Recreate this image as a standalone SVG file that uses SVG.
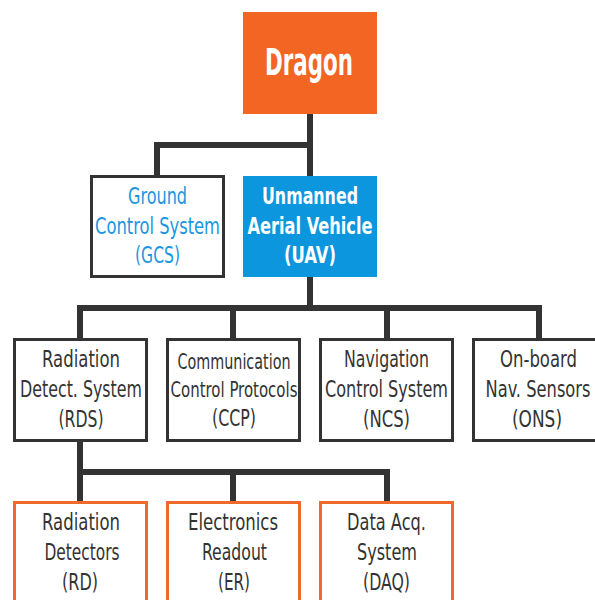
<svg xmlns="http://www.w3.org/2000/svg" width="595" height="600" viewBox="0 0 595 600">
<style>
.t{font-family:'Liberation Sans Narrow','DejaVu Sans Condensed','Liberation Sans',sans-serif;font-size:23.5px;fill:#333;text-anchor:middle}
.box{fill:#fff;stroke:#333;stroke-width:3}
.obox{fill:#fff;stroke:#F06A2C;stroke-width:3}
.c{fill:none;stroke:#333;stroke-width:6;stroke-linejoin:miter}
</style>
<rect width="595" height="600" fill="#fff"/>
<g id="connectors">
<path class="c" d="M310 114 V145 H157 V176"/>
<path class="c" d="M310 145 V177"/>
<path class="c" d="M310 277 V308"/>
<path class="c" d="M80 338 V308 H539 V338"/>
<path class="c" d="M233 308 V338"/>
<path class="c" d="M387 308 V338"/>
<path class="c" d="M80 442 V502"/>
<path class="c" d="M80 472 H387 V502"/>
<path class="c" d="M233 472 V502"/>
</g>
<g id="dragon">
<rect x="243" y="12" width="134" height="102" fill="#F26522"/>
<text class="t" x="309" y="75" style="font-size:38px;font-weight:bold;fill:#fff" textLength="88" lengthAdjust="spacingAndGlyphs">Dragon</text>
</g>
<g id="gcs">
<rect class="box" x="91.5" y="176.5" width="132" height="100"/>
<text class="t" style="fill:#1A96E0" x="157.5" y="204" textLength="59" lengthAdjust="spacingAndGlyphs">Ground</text>
<text class="t" style="fill:#1A96E0" x="157.5" y="234" textLength="125" lengthAdjust="spacingAndGlyphs">Control System</text>
<text class="t" style="fill:#1A96E0" x="157.5" y="263" textLength="45" lengthAdjust="spacingAndGlyphs">(GCS)</text>
</g>
<g id="uav">
<rect x="243" y="176" width="134" height="101" fill="#0B96DD"/>
<text class="t" style="fill:#fff;font-weight:bold" x="310" y="204" textLength="96" lengthAdjust="spacingAndGlyphs">Unmanned</text>
<text class="t" style="fill:#fff;font-weight:bold" x="310" y="234" textLength="125" lengthAdjust="spacingAndGlyphs">Aerial Vehicle</text>
<text class="t" style="fill:#fff;font-weight:bold" x="310" y="263" textLength="52" lengthAdjust="spacingAndGlyphs">(UAV)</text>
</g>
<g id="rds">
<rect class="box" x="14.5" y="339.5" width="132" height="101"/>
<text class="t" x="81" y="367" textLength="78" lengthAdjust="spacingAndGlyphs">Radiation</text>
<text class="t" x="81" y="397" textLength="122" lengthAdjust="spacingAndGlyphs">Detect. System</text>
<text class="t" x="81" y="427" textLength="45" lengthAdjust="spacingAndGlyphs">(RDS)</text>
</g>
<g id="ccp">
<rect class="box" x="167.5" y="339.5" width="132" height="101"/>
<text class="t" style="font-size:22px" x="234" y="369" textLength="113" lengthAdjust="spacingAndGlyphs">Communication</text>
<text class="t" style="font-size:22px" x="234" y="397" textLength="127" lengthAdjust="spacingAndGlyphs">Control Protocols</text>
<text class="t" x="234" y="426" textLength="44" lengthAdjust="spacingAndGlyphs">(CCP)</text>
</g>
<g id="ncs">
<rect class="box" x="320.5" y="339.5" width="132" height="101"/>
<text class="t" x="386.5" y="367" textLength="85" lengthAdjust="spacingAndGlyphs">Navigation</text>
<text class="t" x="386.5" y="397" textLength="123" lengthAdjust="spacingAndGlyphs">Control System</text>
<text class="t" x="386.5" y="427" textLength="47" lengthAdjust="spacingAndGlyphs">(NCS)</text>
</g>
<g id="ons">
<rect class="box" x="473.5" y="339.5" width="132" height="101"/>
<text class="t" x="538.5" y="367" textLength="77" lengthAdjust="spacingAndGlyphs">On-board</text>
<text class="t" x="538" y="397" textLength="105" lengthAdjust="spacingAndGlyphs">Nav. Sensors</text>
<text class="t" x="537" y="427" textLength="50" lengthAdjust="spacingAndGlyphs">(ONS)</text>
</g>
<g id="rd">
<rect class="obox" x="14.5" y="502.5" width="132" height="110"/>
<text class="t" x="81" y="530" textLength="78" lengthAdjust="spacingAndGlyphs">Radiation</text>
<text class="t" x="82" y="560" textLength="75" lengthAdjust="spacingAndGlyphs">Detectors</text>
<text class="t" x="80" y="590" textLength="36" lengthAdjust="spacingAndGlyphs">(RD)</text>
</g>
<g id="er">
<rect class="obox" x="167.5" y="502.5" width="132" height="110"/>
<text class="t" x="233" y="530" textLength="90" lengthAdjust="spacingAndGlyphs">Electronics</text>
<text class="t" x="234.5" y="560" textLength="65" lengthAdjust="spacingAndGlyphs">Readout</text>
<text class="t" x="234" y="590" textLength="32" lengthAdjust="spacingAndGlyphs">(ER)</text>
</g>
<g id="daq">
<rect class="obox" x="320.5" y="502.5" width="132" height="110"/>
<text class="t" x="386.5" y="530" textLength="79" lengthAdjust="spacingAndGlyphs">Data Acq.</text>
<text class="t" x="387" y="560" textLength="60" lengthAdjust="spacingAndGlyphs">System</text>
<text class="t" x="386.5" y="590" textLength="47" lengthAdjust="spacingAndGlyphs">(DAQ)</text>
</g>
</svg>
